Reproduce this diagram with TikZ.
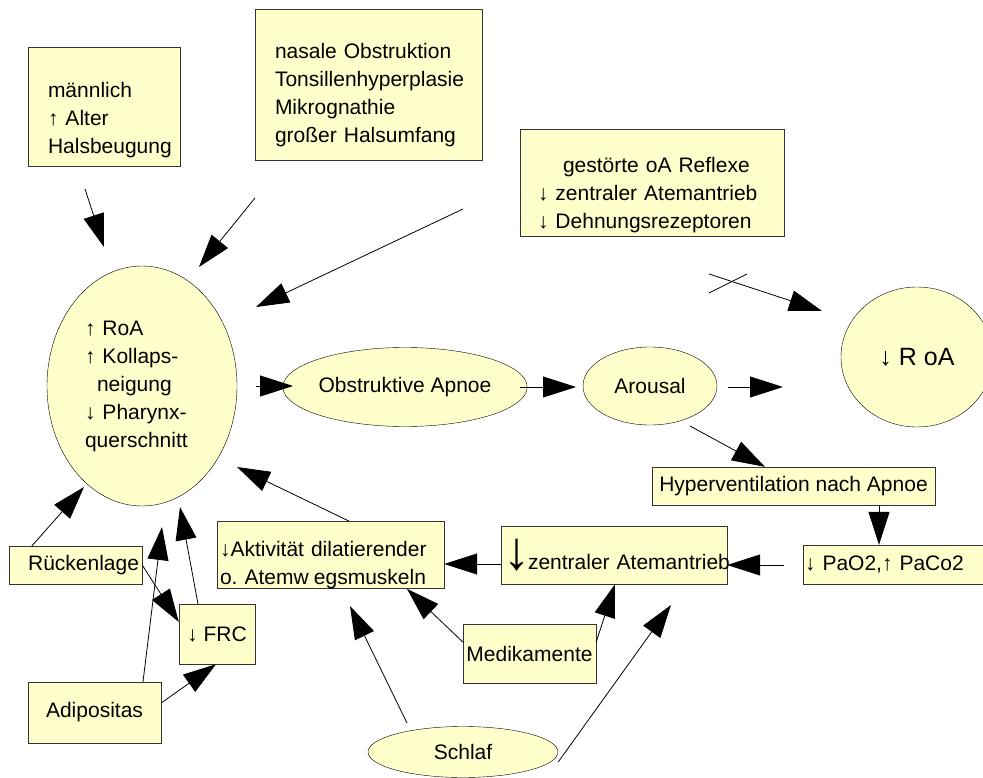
\documentclass[tikz,border=0pt]{standalone}
\usepackage{fontspec}
\setmainfont{Liberation Sans}
\usetikzlibrary{arrows.meta}
\usetikzlibrary{shapes.geometric}
\definecolor{gelb}{HTML}{FFFFCC}
\hyphenpenalty=10000
\exhyphenpenalty=10000
\newcommand{\luft}[1]{\rule{0pt}{#1pt}}
\tikzset{kasten/.style={rectangle, draw=black!80, fill=gelb, inner ysep=0pt}}
\tikzset{oval/.style={ellipse, draw=black, fill=gelb, inner sep=0pt}}
\tikzset{pfeil/.style={-{Triangle[length=33pt,width=21pt]}, line width=0.8pt}}

\begin{document}
\begin{tikzpicture}[x=1pt,y=-1pt,font=\fontsize{21}{28}\selectfont]
\useasboundingbox (0,0) rectangle (983,778);

% Ursachen oben
\node[kasten, minimum width=152, minimum height=119, text width=112, inner xsep=20, align=left] (alter) at (104,106.5) {\luft{42}männlich\\↑ Alter\\Halsbeugung};
\node[kasten, minimum width=227, minimum height=151, text width=187, inner xsep=20, align=left] (nase) at (368.5,84.5) {\luft{36}nasale Obstruktion\\Tonsillenhyperplasie\\Mikrognathie\\großer Halsumfang};
\node[kasten, minimum width=264, minimum height=107, text width=228, inner xsep=18, align=left] (reflexe) at (652,182.5) {\luft{40}\hspace*{25pt}gestörte oA Reflexe\\↓ zentraler Atemantrieb\\↓ Dehnungsrezeptoren};

% Kette in der Mitte
\node[oval, minimum width=190, minimum height=240, text width=114, align=left] (roa) at (142,386) {↑ RoA\\↑ Kollaps-\\\hspace*{12pt}neigung\\↓ Pharynx-\\querschnitt};
\node[oval, minimum width=208, minimum height=79] (apnoe) at (405,387) {Obstruktive Apnoe};
\node[oval, minimum width=134, minimum height=78] (arousal) at (650,386) {Arousal};
\node[oval, minimum width=152, minimum height=140, font=\fontsize{25}{30}\selectfont] (roaklein) at (917,357) {↓ R oA};

% Rueckkopplung
\node[kasten, minimum width=283, minimum height=38] (hyper) at (793.5,486) {Hyperventilation nach Apnoe};
\node[kasten, minimum width=180, minimum height=39, text width=176, inner xsep=2, align=left] (pao) at (893,564.5) {↓ PaO2,↑ PaCo2};
\node[kasten, minimum width=226, minimum height=58, text width=222, inner xsep=2, align=left] (antrieb) at (614,555) {\mbox{{\fontsize{54}{54}\selectfont ↓}\hspace{-2pt}zentraler Atemantrieb}};
\node[kasten, minimum width=227, minimum height=60, text width=221, inner xsep=3, align=left] (aktiv) at (330.5,555) {\luft{35}↓Aktivität dilatierender\\o.\ Atemw\hspace{0.25em}egsmuskeln};
\node[kasten, minimum width=133, minimum height=59] (medi) at (529.5,653.5) {Medikamente};
\node[oval, minimum width=190, minimum height=51] (schlaf) at (463,752) {Schlaf};

% Lage und Gewicht
\node[kasten, minimum width=133, minimum height=38, text width=127, inner xsep=3, align=right] (ruecken) at (75.5,565) {Rückenlage};
\node[kasten, minimum width=76, minimum height=60] (frc) at (217,634) {↓ FRC};
\node[kasten, minimum width=133, minimum height=61] (adipo) at (94.5,712.5) {Adipositas};

% freie Pfeilenden
\coordinate (alter-aus) at (85,189);
\coordinate (roa-ein1) at (104,247);
\coordinate (nase-aus) at (255,198);
\coordinate (roa-ein2) at (199,267);
\coordinate (reflexe-aus) at (463,209);
\coordinate (roa-ein3) at (256,307);
\coordinate (roa-aus) at (256,386);
\coordinate (apnoe-ein) at (293,386);
\coordinate (apnoe-aus) at (520,387);
\coordinate (arousal-ein) at (576,387);
\coordinate (arousal-aus) at (728,387);
\coordinate (roaklein-ein) at (783,387);
\coordinate (kreuz-a) at (709,274);
\coordinate (roaklein-ein2) at (822,311);
\coordinate (kreuz-b) at (709,293);
\coordinate (kreuz-c) at (747,274);
\coordinate (arousal-aus2) at (690,426);
\coordinate (pao-aus) at (784,565);
\coordinate (roa-ein4) at (237,467);
\coordinate (roa-ein5) at (84,487);
\coordinate (roa-ein6) at (180,507);
\coordinate (roa-ein7) at (162,527);
\coordinate (schlaf-aus) at (407,723);
\coordinate (aktiv-ein) at (350,606);
\coordinate (antrieb-ein) at (671,605);

\draw[pfeil] (alter-aus) -- (roa-ein1);
\draw[pfeil] (nase-aus) -- (roa-ein2);
\draw[pfeil] (reflexe-aus) -- (roa-ein3);
\draw[pfeil] (roa-aus) -- (apnoe-ein);
\draw[pfeil] (apnoe-aus) -- (arousal-ein);
\draw[pfeil] (arousal-aus) -- (roaklein-ein);
\draw[pfeil] (kreuz-a) -- (roaklein-ein2);
\draw[line width=0.8pt] (kreuz-b) -- (kreuz-c);
\draw[pfeil] (arousal-aus2) -- (hyper.north -| 765,0);
\draw[pfeil] (hyper.south -| 879,0) -- (pao.north -| 879,0);
\draw[pfeil] (pao-aus) -- (antrieb.east |- 0,565);
\draw[pfeil] (antrieb.west |- 0,564) -- (aktiv.east |- 0,564);
\draw[pfeil] (aktiv.north -| 349,0) -- (roa-ein4);
\draw[pfeil] (ruecken.north -| 32,0) -- (roa-ein5);
\draw[pfeil] (ruecken.east |- 0,565) -- (frc.west |- 0,622);
\draw[pfeil] (frc.north -| 198,0) -- (roa-ein6);
\draw[pfeil] (adipo.north -| 143,0) -- (roa-ein7);
\draw[pfeil] (adipo.east |- 0,703) -- (frc.south -| 216,0);
\draw[pfeil] (medi.west |- 0,642) -- (aktiv.south -| 407,0);
\draw[pfeil] (medi.east |- 0,642) -- (antrieb.south -| 615,0);
\draw[pfeil] (schlaf-aus) -- (aktiv-ein);
\draw[pfeil] (schlaf.east |- 0,762) -- (antrieb-ein);
\end{tikzpicture}
\end{document}
